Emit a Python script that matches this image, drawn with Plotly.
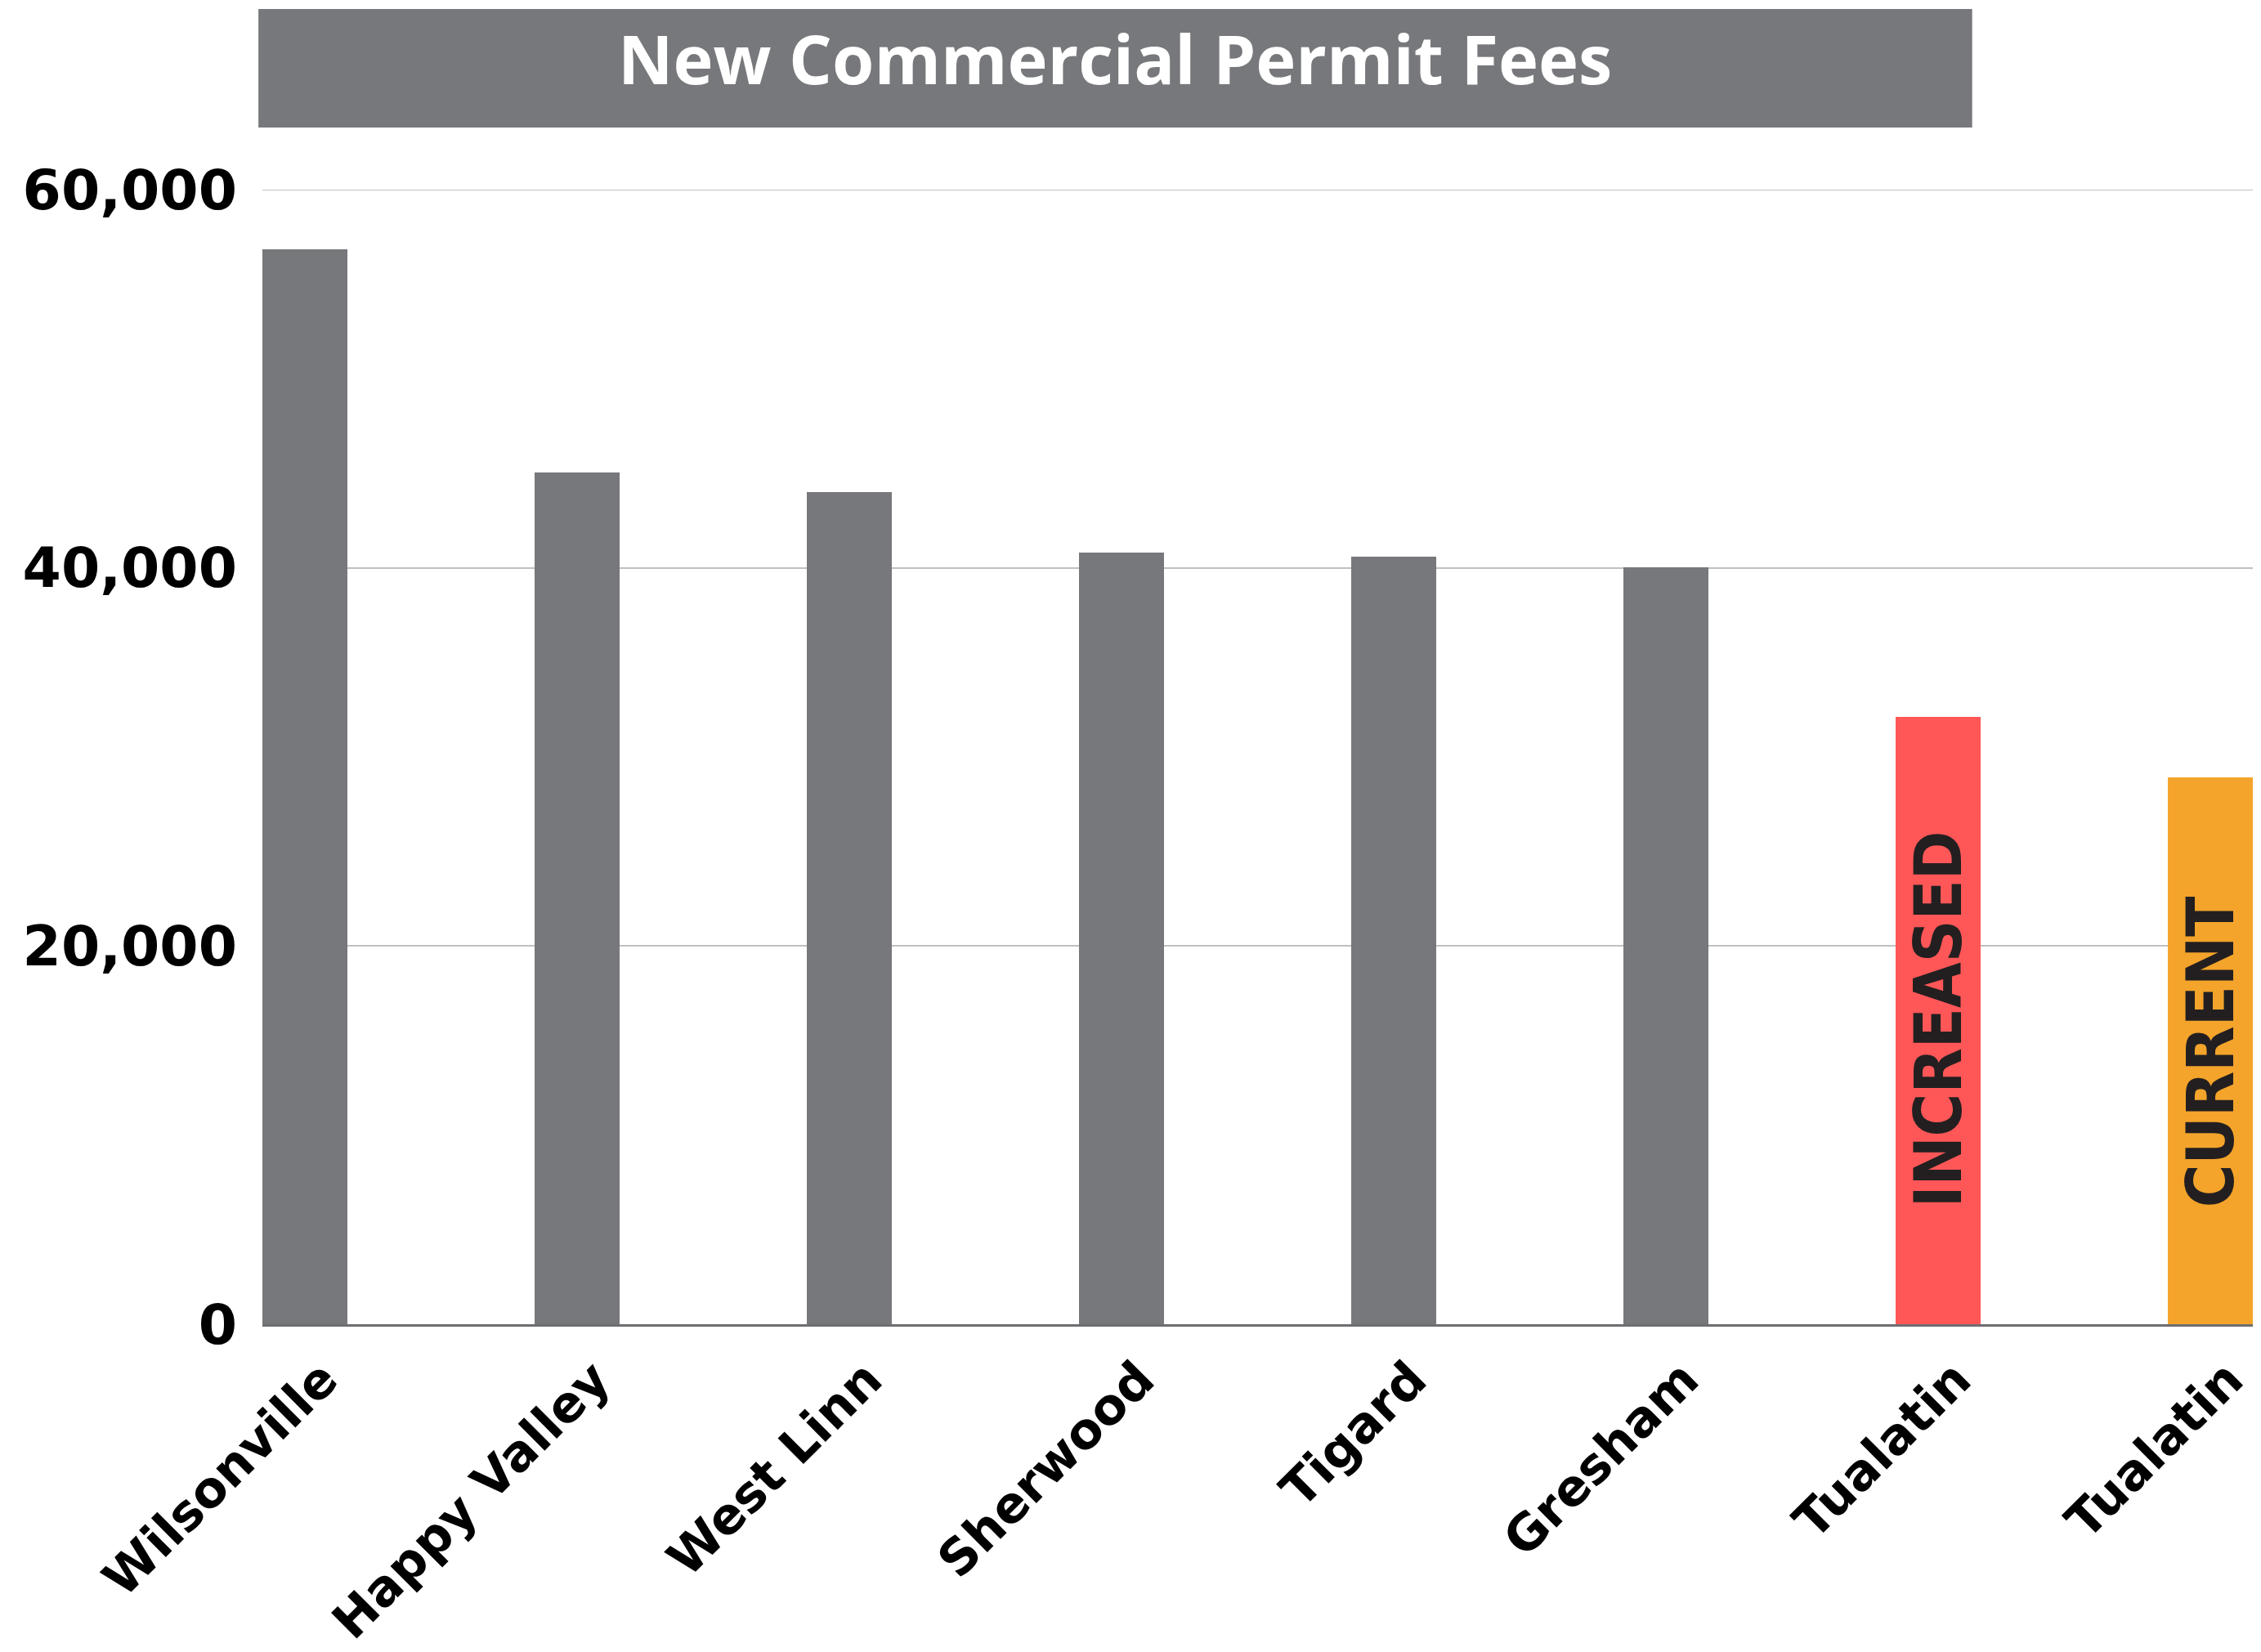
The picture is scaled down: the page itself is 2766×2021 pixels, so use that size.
import plotly.graph_objects as go

# ---- data ----
categories = ["Wilsonville", "Happy Valley", "West Linn", "Sherwood",
              "Tigard", "Gresham", "Tualatin", "Tualatin"]
fees = [56850, 45050, 44000, 40800, 40600, 40050, 32100, 28900]
bar_colors = ["#77787b"] * 6 + ["#ff5757", "#f4a42b"]
bar_notes = {6: "INCREASED", 7: "CURRENT"}
y_ticks = [0, 20000, 40000, 60000]
title_text = "New Commercial Permit Fees"

x_pos = list(range(len(categories)))
bar_w = 0.3125
note_base = 6100

fig = go.Figure()
fig.add_trace(go.Bar(
    x=x_pos, y=fees, width=bar_w,
    marker=dict(color=bar_colors, line=dict(width=0)),
    hoverinfo="x+y", showlegend=False,
))

for i, note in bar_notes.items():
    fig.add_annotation(
        x=x_pos[i], y=note_base, xref="x", yref="y",
        text=f"<b>{note}</b>", textangle=-90, showarrow=False,
        xanchor="center", yanchor="bottom",
        font=dict(family="Liberation Sans Narrow, DejaVu Sans Condensed, sans-serif",
                  size=80, color="#231f20"),
    )

# top gridline (plotly omits gridlines on the range edge)
fig.add_shape(type="line", xref="paper", yref="y", x0=0, x1=1,
              y0=y_ticks[-1], y1=y_ticks[-1],
              line=dict(color="#c0c0c0", width=2), layer="below")

# title box
fig.add_shape(type="rect", xref="paper", yref="paper",
              x0=-0.002, x1=0.859, y0=1.0548, y1=1.1592,
              fillcolor="#77787b", line=dict(width=0), layer="above")
fig.add_annotation(
    x=(-0.002 + 0.859) / 2, y=(1.0548 + 1.1592) / 2 + 0.009, xref="paper", yref="paper",
    text=title_text, showarrow=False, xanchor="center", yanchor="middle",
    font=dict(family="Open Sans", size=83, color="white", weight=700),
)

fig.update_layout(
    width=2766, height=2021,
    margin=dict(l=321, r=10, t=232, b=401, autoexpand=False),
    paper_bgcolor="white", plot_bgcolor="white",
    bargap=0,
    xaxis=dict(
        range=[-bar_w / 2, len(categories) - 1 + bar_w / 2],
        tickmode="array", tickvals=x_pos, ticktext=categories,
        tickangle=-45, showgrid=False, zeroline=False, automargin=False,
        showline=True, linecolor="#6d6e71", linewidth=3,
        ticklabelshift=22, ticklabelstandoff=4, ticklabeloverflow="allow",
        tickfont=dict(family="DejaVu Sans", size=61, color="black", weight=700),
        fixedrange=True,
    ),
    yaxis=dict(
        range=[0, 60000], tickmode="array", tickvals=y_ticks,
        tickformat=",", showgrid=True, gridcolor="#c0c0c0", gridwidth=2,
        zeroline=False, showline=False, ticklabelstandoff=30, automargin=False,
        tickfont=dict(family="DejaVu Sans", size=68, color="black", weight=700),
        fixedrange=True,
    ),
)

fig.write_html("out.html")
